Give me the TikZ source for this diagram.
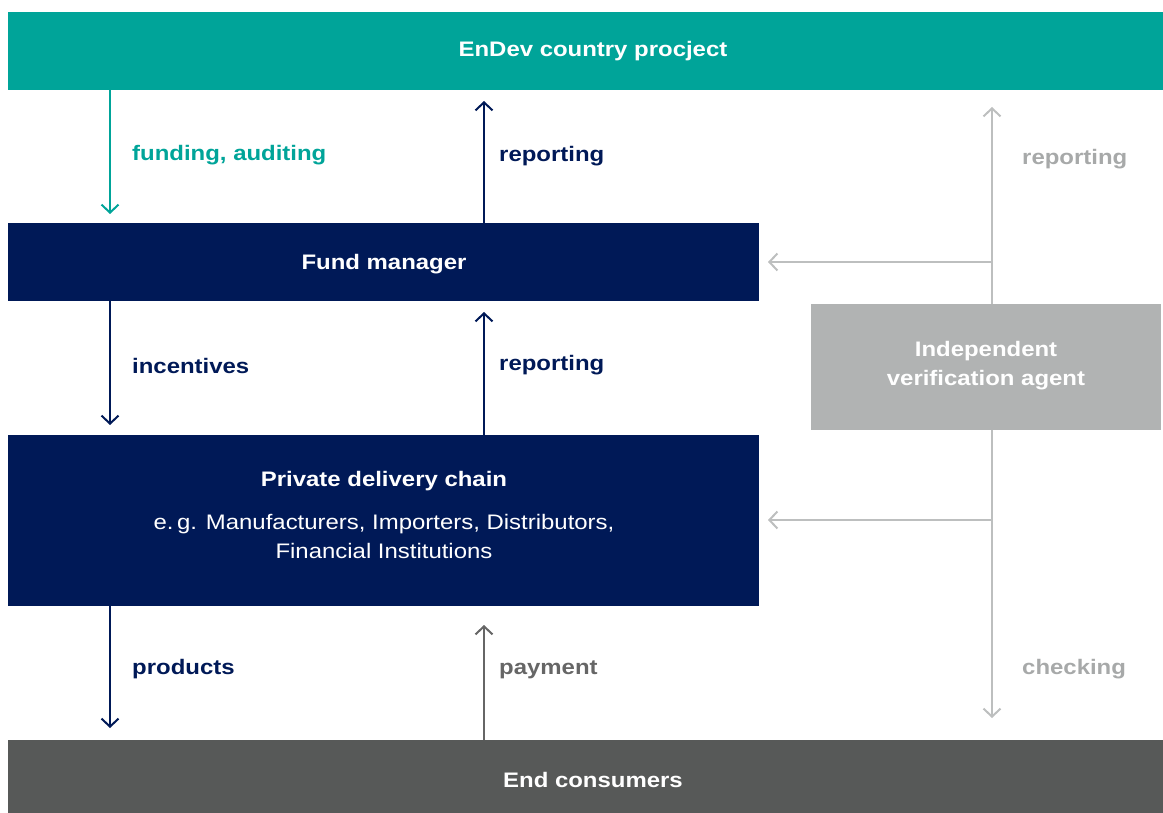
\documentclass[tikz,border=0pt]{standalone}
\usepackage{fontspec}
\setmainfont[FakeStretch=1.14]{Liberation Sans}
\usetikzlibrary{arrows.meta}
\definecolor{teal}{HTML}{00A499}
\definecolor{navy}{HTML}{001957}
\definecolor{boxgrey}{HTML}{B1B3B3}
\definecolor{linegrey}{HTML}{BDBFBF}
\definecolor{labgrey}{HTML}{A7A9A9}
\definecolor{dgrey}{HTML}{575958}
\definecolor{paygrey}{HTML}{666666}
\tikzset{
  x=1pt,y=-1pt,
  blk/.style={draw=none,inner sep=0pt,text=white,font=\fontsize{21}{29}\selectfont\bfseries,align=center},
  arr/.style={line width=2pt,-{Straight Barb[length=8pt,width=17pt,line width=2pt]}},
  lab/.style={anchor=west,inner sep=0pt,font=\fontsize{21}{25}\selectfont\bfseries},
}
\begin{document}
\begin{tikzpicture}
\useasboundingbox (0,0) rectangle (1163,813);
% boxes
\fill[teal] (8,12) rectangle (1163,90);
\node[blk] (endev) at (593,51.5) {EnDev country procject};
\fill[navy] (8,223) rectangle (759,301);
\node[blk] (fund) at (384,264) {Fund manager};
\fill[navy] (8,435) rectangle (759,606);
\node[blk] (pdc) at (384,481) {Private delivery chain};
\node[blk,font=\fontsize{21}{29}\selectfont] (pdcsub) at (384,536.5) {e.\,g. Manufacturers, Importers, Distributors,\\Financial Institutions};
\fill[boxgrey] (811,304) rectangle (1161,430);
\node[blk] (iva) at (986,366) {Independent\\verification agent};
\fill[dgrey] (8,740) rectangle (1163,813);
\node[blk] (end) at (593,779.5) {End consumers};
% coordinates
\coordinate (a1s) at (110,90); \coordinate (a1e) at (110,214);
\coordinate (a2s) at (484,223); \coordinate (a2e) at (484,101);
\coordinate (a3s) at (110,301); \coordinate (a3e) at (110,425);
\coordinate (a4s) at (484,435); \coordinate (a4e) at (484,312);
\coordinate (a5s) at (110,606); \coordinate (a5e) at (110,728);
\coordinate (a6s) at (484,740); \coordinate (a6e) at (484,625);
\coordinate (g1s) at (992,304); \coordinate (g1e) at (992,107);
\coordinate (g2s) at (992,262); \coordinate (g2e) at (768,262);
\coordinate (g3s) at (992,430); \coordinate (g3e) at (992,718);
\coordinate (g4s) at (992,520); \coordinate (g4e) at (768,520);
% arrows
\draw[arr,teal] (a1s) -- (a1e);
\draw[arr,navy] (a2s) -- (a2e);
\draw[arr,navy] (a3s) -- (a3e);
\draw[arr,navy] (a4s) -- (a4e);
\draw[arr,navy] (a5s) -- (a5e);
\draw[arr,paygrey] (a6s) -- (a6e);
\draw[arr,linegrey] (g1s) -- (g1e);
\draw[arr,linegrey] (g2s) -- (g2e);
\draw[arr,linegrey] (g3s) -- (g3e);
\draw[arr,linegrey] (g4s) -- (g4e);
% labels
\node[lab,text=teal] (l1) at (132,155.5) {funding, auditing};
\node[lab,text=navy] (l2) at (499,156.5) {reporting};
\node[lab,text=navy] (l3) at (132,365.5) {incentives};
\node[lab,text=navy] (l4) at (499,365.5) {reporting};
\node[lab,text=navy] (l5) at (132,669.5) {products};
\node[lab,text=paygrey] (l6) at (499,669.5) {payment};
\node[lab,text=labgrey] (l7) at (1022,159.5) {reporting};
\node[lab,text=labgrey] (l8) at (1022,669.5) {checking};
\end{tikzpicture}
\end{document}
